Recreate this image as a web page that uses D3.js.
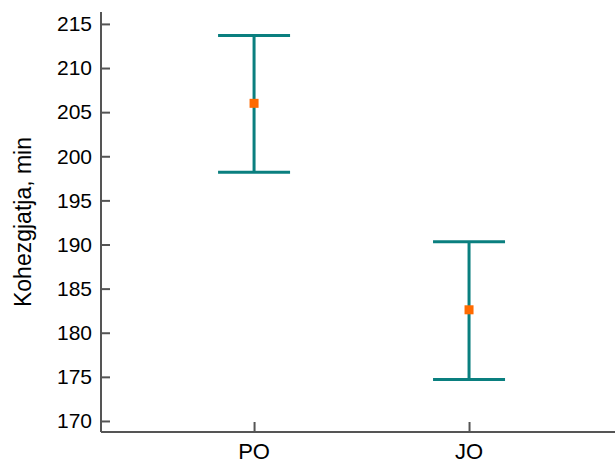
<!DOCTYPE html>
<html>
<head>
<meta charset="utf-8">
<script src="https://cdn.jsdelivr.net/npm/d3@7"></script>
<style>
  body { margin: 0; background: #fff; }
  svg { display: block; font-family: "Liberation Sans", Arial, sans-serif; }
</style>
</head>
<body>
<svg class="chart" width="615" height="463"></svg>
<script>
// ---- Data ----
const categories = ["PO", "JO"];
const means = [206.0, 182.6];
const upper = [213.7, 190.3];
const lower = [198.2, 174.7];
const yTicks = [170, 175, 180, 185, 190, 195, 200, 205, 210, 215];

const teal = "#0a7f7f", orange = "#ff6a00", axisCol = "#555";

const svg = d3.select("svg.chart");
// plot edges (window.top is taken, so no bare `top`)
const pLeft = 101, pRight = 615, pTop = 12, pBottom = 432;

// x: category index, padded so the axis runs on past JO to the edge
const x = d3.scaleLinear().domain([-0.712, 1.679]).range([pLeft, pRight]);
const y = d3.scaleLinear().domain([168.75, 216.35]).range([pBottom, pTop]);

// ---- Axes ----
const yAxis = svg.append("g")
    .attr("transform", `translate(${pLeft},0)`)
    .call(d3.axisRight(y).tickValues(yTicks).tickSize(9).tickFormat(""));
yAxis.select(".domain").attr("d", `M0,${pTop}V${pBottom}`);
yAxis.selectAll("path, line").attr("stroke", axisCol).attr("stroke-width", 2);

svg.append("g").selectAll("text")
    .data(yTicks)
    .join("text")
    .attr("x", pLeft - 9)
    .attr("y", d => y(d))
    .attr("dy", "0.35em")
    .attr("text-anchor", "end")
    .attr("font-size", 21)
    .text(d => d);

const xAxis = svg.append("g")
    .attr("transform", `translate(0,${pBottom})`)
    .call(d3.axisTop(x).tickValues(d3.range(categories.length)).tickSize(10).tickFormat(""));
xAxis.select(".domain").attr("d", `M${pLeft},0H${pRight}`);
xAxis.selectAll("path, line").attr("stroke", axisCol).attr("stroke-width", 2);

svg.append("g").selectAll("text")
    .data(categories)
    .join("text")
    .attr("x", (d, i) => x(i))
    .attr("y", 459)
    .attr("text-anchor", "middle")
    .attr("font-size", 22)
    .text(d => d);

svg.append("text")
    .attr("transform", `translate(31,${(pTop + pBottom) / 2}) rotate(-90)`)
    .attr("text-anchor", "middle")
    .attr("font-size", 23)
    .text("Kohezgjatja, min");

// ---- Error bars ----
const capW = 36;
const bars = svg.append("g").selectAll("g")
    .data(categories)
    .join("g")
    .attr("stroke", teal)
    .attr("stroke-width", 3);
bars.append("line")
    .attr("x1", (d, i) => x(i)).attr("x2", (d, i) => x(i))
    .attr("y1", (d, i) => y(upper[i])).attr("y2", (d, i) => y(lower[i]));
bars.append("line")
    .attr("x1", (d, i) => x(i) - capW).attr("x2", (d, i) => x(i) + capW)
    .attr("y1", (d, i) => y(upper[i])).attr("y2", (d, i) => y(upper[i]));
bars.append("line")
    .attr("x1", (d, i) => x(i) - capW).attr("x2", (d, i) => x(i) + capW)
    .attr("y1", (d, i) => y(lower[i])).attr("y2", (d, i) => y(lower[i]));

// mean markers
const m = 9;
svg.append("g").selectAll("rect")
    .data(means)
    .join("rect")
    .attr("x", (d, i) => x(i) - m / 2)
    .attr("y", d => y(d) - m / 2)
    .attr("width", m)
    .attr("height", m)
    .attr("fill", orange);
</script>
</body>
</html>
